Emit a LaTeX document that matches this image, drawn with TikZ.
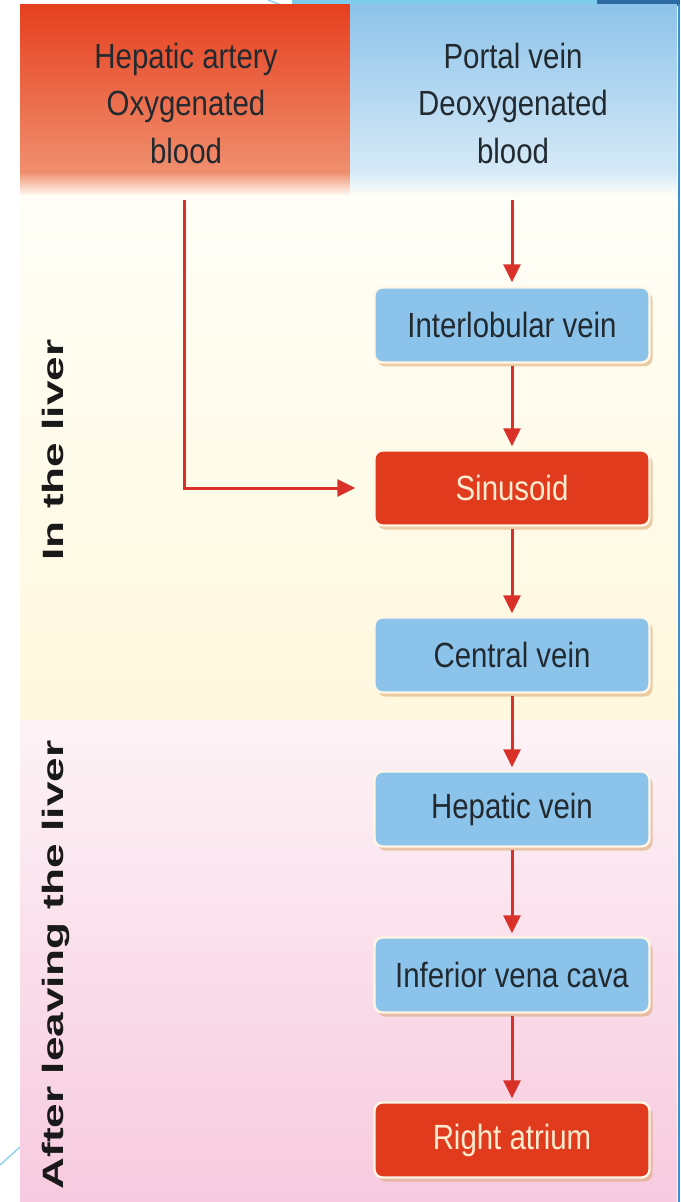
\documentclass[tikz,border=0pt]{standalone}
\usepackage{fontspec}
\setmainfont{Liberation Sans}[FakeStretch=0.84]
\newfontfamily\vfont{Liberation Sans Bold}[FakeStretch=1.5]
\usetikzlibrary{arrows.meta,shadows}
\definecolor{hdred}{HTML}{E6401F}
\definecolor{hdredlow}{HTML}{F08F6E}
\definecolor{hdblue}{HTML}{8DC3EA}
\definecolor{hdbluelow}{HTML}{D6EAF7}
\definecolor{creamtop}{HTML}{FFFEF7}
\definecolor{creambot}{HTML}{FFF8DE}
\definecolor{pinktop}{HTML}{FDF3F6}
\definecolor{pinkbot}{HTML}{F7CADF}
\definecolor{boxblue}{HTML}{8CC3EB}
\definecolor{boxred}{HTML}{E13B1E}
\definecolor{arrowred}{HTML}{D93028}
\definecolor{boxline}{HTML}{FFF6E6}
\definecolor{shadowtan}{HTML}{D9A56E}
\definecolor{txtdark}{HTML}{222A30}
\definecolor{txtcream}{HTML}{FDEBD0}
\definecolor{decolight}{HTML}{7CCDEB}
\definecolor{decodark}{HTML}{2D6CA2}
\definecolor{edgeblue}{HTML}{3A8FD0}
\tikzset{
  flowbox/.style={rectangle, rounded corners=4pt, minimum width=137.5pt,
    minimum height=37.5pt, draw=boxline, line width=1.2pt,
    font=\fontsize{17.5}{21}\selectfont,
    drop shadow={shadow xshift=1.5pt, shadow yshift=-2pt, fill=shadowtan, opacity=0.55}},
  bluebox/.style={flowbox, fill=boxblue, text=txtdark},
  redbox/.style={flowbox, fill=boxred, text=txtcream},
  flow/.style={draw=arrowred, line width=1.5pt, -{Triangle[length=9pt,width=8.5pt]}},
  header/.style={align=center, text=txtdark, font=\fontsize{17.5}{23.75}\selectfont, inner sep=0pt},
  sidelabel/.style={rotate=90, anchor=base, text=black!90, font=\vfont\fontsize{14.7}{16}\selectfont, inner sep=0pt}
}
\begin{document}
\begin{tikzpicture}[x=0.5pt,y=-0.5pt]
\useasboundingbox (0,0) rectangle (680,1202);
\fill[white] (0,0) rectangle (680,1202);
% slide decoration
\fill[decolight] (292,0) rectangle (597,6);
\fill[decodark] (597,0) rectangle (680,6);
\draw[decolight, line width=0.6pt] (268,0) -- (284,6);
\draw[decolight, line width=0.6pt] (0,1165) -- (20,1147);
% panel backgrounds
\shade[top color=hdred, bottom color=hdredlow] (20,5) rectangle (350,172);
\shade[top color=hdredlow, bottom color=creamtop] (20,172) rectangle (350,196);
\shade[top color=hdblue, bottom color=hdbluelow] (350,5) rectangle (677,172);
\shade[top color=hdbluelow, bottom color=creamtop] (350,172) rectangle (677,196);
\shade[top color=creamtop, bottom color=creambot] (20,196) rectangle (677,720);
\shade[top color=pinktop, bottom color=pinkbot] (20,720) rectangle (677,1202);
\draw[edgeblue, line width=1pt] (678.5,5) -- (678.5,1202);
% headers
\node[header] (ha) at (186,103) {Hepatic artery\\Oxygenated\\blood};
\node[header] (pv) at (513,103) {Portal vein\\Deoxygenated\\blood};
% side labels
\node[sidelabel] (inl) at (63,450) {In the liver};
\node[sidelabel] (afl) at (63,965) {After leaving the liver};
% boxes
\node[bluebox] (iv) at (512,325) {Interlobular vein};
\node[redbox]  (si) at (512,488) {Sinusoid};
\node[bluebox] (cv) at (512,655) {Central vein};
\node[bluebox] (hv) at (512,809) {Hepatic vein};
\node[bluebox] (ivc) at (512,975) {Inferior vena cava};
\node[redbox]  (ra) at (512,1140) {Right atrium};
% connectors
\coordinate (pvs) at (512,200);
\coordinate (has) at (184,200);
\coordinate (hab) at (184,488);
\draw[flow, shorten >=2pt] (pvs) -- (iv.north);
\draw[flow, shorten >=1.5pt, shorten <=1pt] (iv.south) -- (si.north);
\draw[flow, shorten >=1.5pt, shorten <=1pt] (si.south) -- (cv.north);
\draw[flow, shorten >=1.5pt, shorten <=1pt] (cv.south) -- (hv.north);
\draw[flow, shorten >=1.5pt, shorten <=1pt] (hv.south) -- (ivc.north);
\draw[flow, shorten >=1.5pt, shorten <=1pt] (ivc.south) -- (ra.north);
\draw[flow, shorten >=9pt] (has) -- (hab) -- (si.west);
\end{tikzpicture}
\end{document}
